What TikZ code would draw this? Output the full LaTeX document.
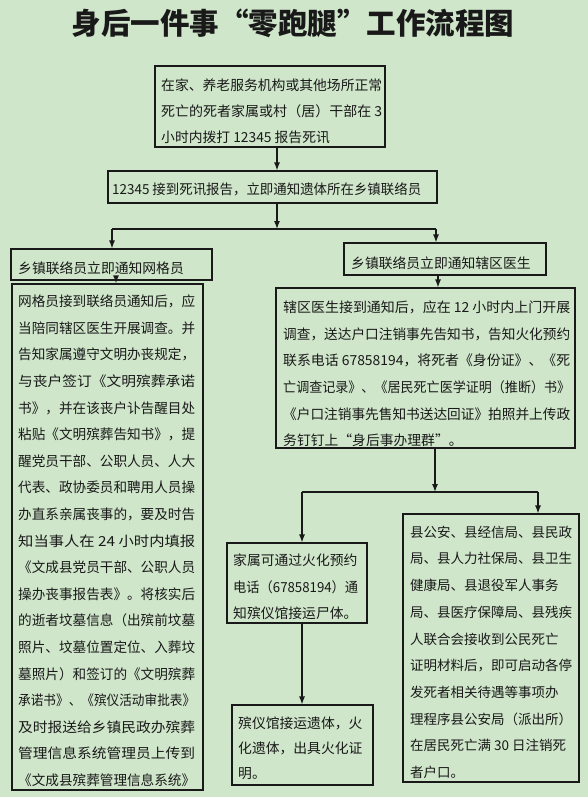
\documentclass[tikz,border=0pt]{standalone}
\usepackage{fontspec}
\usepackage{graphicx}
\setmainfont{Noto Sans CJK SC}
\usetikzlibrary{arrows.meta,calc}
\definecolor{bg}{RGB}{207,230,202}
\definecolor{ink}{RGB}{25,25,25}
\newcommand\J[2]{\resizebox{#1}{\height}{#2}}
\begin{document}
\begin{tikzpicture}[x=1pt,y=-1pt,
  box/.style={draw=ink,line width=1.1pt,inner sep=0pt},
  txt/.style={inner sep=0pt,anchor=north west,align=left,text=ink,font=\fontsize{13.8}{26.6}\selectfont},
  arr/.style={draw=ink,line width=1.2pt,-{Latex[length=8pt,width=6pt]}},
  ln/.style={draw=ink,line width=1.2pt}]
\fill[bg] (0,0) rectangle (588,797);
\useasboundingbox (0,0) rectangle (588,797);

\node[font=\fontsize{29.5}{29.5}\selectfont\bfseries,text=ink,inner sep=0pt] (title) at (293,23) {身后一件事“零跑腿”工作流程图};

% boxes
\node[box,minimum width=230pt,minimum height=81pt] (top) at (270,106.5) {};
\node[box,minimum width=329pt,minimum height=32pt] (sec) at (272.5,187) {};
\node[box,minimum width=201pt,minimum height=31pt] (lh) at (111.5,264.5) {};
\node[box,minimum width=202pt,minimum height=32pt] (rh) at (445,259) {};
\node[box,minimum width=191pt,minimum height=506pt] (lb) at (107.5,537) {};
\node[box,minimum width=299pt,minimum height=160pt] (doc) at (425.5,368) {};
\node[box,minimum width=140pt,minimum height=80pt] (m1) at (297,583) {};
\node[box,minimum width=141pt,minimum height=80pt] (m2) at (302.5,745) {};
\node[box,minimum width=176pt,minimum height=268pt] (rb) at (491,648) {};

% texts
\node[txt,font=\fontsize{13.8}{26.3}\selectfont] (topt) at (161,78.2) {\J{221pt}{在家、养老服务机构或其他场所正常}\\\J{221pt}{死亡的死者家属或村（居）干部在 3}\\小时内拨打 12345 报告死讯};
\node[txt] (sect) at (112,182.7) {\J{309pt}{12345 接到死讯报告，立即通知遗体所在乡镇联络员}};
\node[txt] (lht) at (18,261.7) {乡镇联络员立即通知网格员};
\node[txt] (rht) at (351,256.7) {乡镇联络员立即通知辖区医生};
\node[txt] (lbt) at (18,294.7) {%
\J{177pt}{网格员接到联络员通知后，应}\\
\J{177pt}{当陪同辖区医生开展调查。并}\\
\J{177pt}{告知家属遵守文明办丧规定，}\\
\J{177pt}{与丧户签订《文明殡葬承诺}\\
\J{177pt}{书》，并在该丧户讣告醒目处}\\
\J{177pt}{粘贴《文明殡葬告知书》，提}\\
\J{177pt}{醒党员干部、公职人员、人大}\\
\J{177pt}{代表、政协委员和聘用人员操}\\
\J{177pt}{办直系亲属丧事的，要及时告}\\
\J{177pt}{知当事人在 24 小时内填报}\\
\J{177pt}{《文成县党员干部、公职人员}\\
\J{177pt}{操办丧事报告表》。将核实后}\\
\J{177pt}{的逝者坟墓信息（出殡前坟墓}\\
\J{177pt}{照片、坟墓位置定位、入葬坟}\\
\J{177pt}{墓照片）和签订的《文明殡葬}\\
\J{177pt}{承诺书》、《殡仪活动审批表》}\\
\J{177pt}{及时报送给乡镇民政办殡葬}\\
\J{177pt}{管理信息系统管理员上传到}\\
\J{177pt}{《文成县殡葬管理信息系统》}};
\node[txt] (doct) at (283,300.7) {%
\J{287pt}{辖区医生接到通知后，应在 12 小时内上门开展}\\
\J{287pt}{调查，送达户口注销事先告知书，告知火化预约}\\
\J{287pt}{联系电话 67858194，将死者《身份证》、《死}\\
\J{287pt}{亡调查记录》、《居民死亡医学证明（推断）书》}\\
\J{287pt}{《户口注销事先售知书送达回证》拍照并上传政}\\
务钉钉上“身后事办理群”。};
\node[txt,font=\fontsize{13.8}{26.5}\selectfont] (m1t) at (233,553.7) {家属可通过火化预约\\\J{125pt}{电话（67858194）通}\\知殡仪馆接运尸体。};
\node[txt,font=\fontsize{13.8}{25}\selectfont] (m2t) at (238,716.7) {殡仪馆接运遗体，火\\化遗体，出具火化证\\明。};
\node[txt,font=\fontsize{13.5}{26.7}\selectfont] (rbt) at (410,525.7) {%
县公安、县经信局、县民政\\
局、县人力社保局、县卫生\\
健康局、县退役军人事务\\
局、县医疗保障局、县残疾\\
人联合会接收到公民死亡\\
证明材料后，即可启动各停\\
发死者相关待遇等事项办\\
理程序县公安局（派出所）\\
在居民死亡满 30 日注销死\\
者户口。};

% connectors
\coordinate (c1) at (277,0);
\coordinate (j1) at (277,229);
\coordinate (jl) at (112,229);
\coordinate (jr) at (436,229);
\coordinate (cl) at (116,0);
\coordinate (cr) at (438,0);
\coordinate (j2) at (435,492);
\coordinate (kl) at (302,492);
\coordinate (kr) at (538,492);

\draw[arr] (top.south -| c1) -- (sec.north -| c1);
\draw[arr] (sec.south -| c1) -- (j1);
\draw[ln] (jl) -- (jr);
\draw[arr] (jl) -- (lh.north -| jl);
\draw[arr] (jr) -- (rh.north -| jr);
\draw[arr] (lh.south -| cl) -- (lb.north -| cl);
\draw[arr] (rh.south -| cr) -- (doc.north -| cr);
\draw[arr] (doc.south -| j2) -- (j2);
\draw[ln] (kl) -- (kr);
\draw[arr] (kl) -- (m1.north -| kl);
\draw[arr] (kr) -- (rb.north -| kr);
\draw[arr] (m1.south -| kl) -- (m2.north -| kl);
\end{tikzpicture}
\end{document}
